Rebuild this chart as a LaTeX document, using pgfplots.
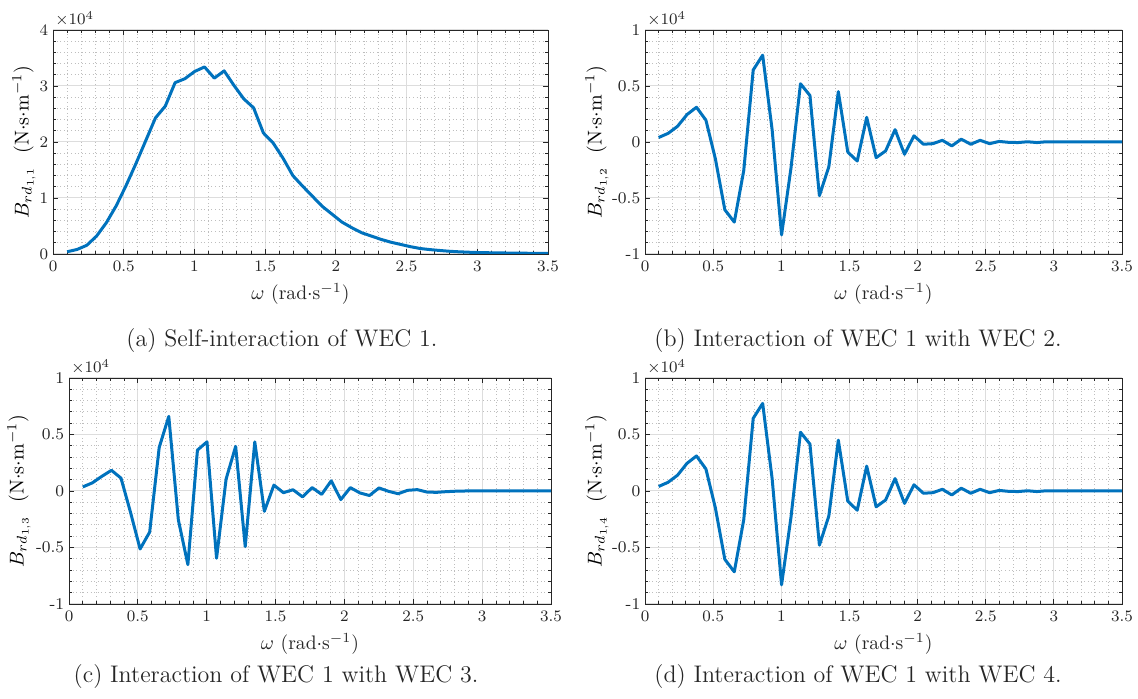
\documentclass[border=0pt]{standalone}
\usepackage{pgfplots}
\pgfplotsset{compat=1.18}
\usepackage{pgfplotstable}
\definecolor{mlblue}{HTML}{0072BD}
\definecolor{axgray}{HTML}{262626}
\definecolor{gridmaj}{HTML}{DDDDDD}
\definecolor{gridmin}{HTML}{BEBEBE}

% omega (rad/s) and B (x 10^4 N s/m)
\pgfplotstableread{
w B
0.1000 0.040
0.1694 0.080
0.2388 0.155
0.3082 0.320
0.3776 0.560
0.4469 0.860
0.5163 1.220
0.5857 1.610
0.6551 2.020
0.7245 2.430
0.7939 2.640
0.8633 3.060
0.9327 3.130
1.0020 3.260
1.0714 3.340
1.1408 3.140
1.2102 3.270
1.2796 3.010
1.3490 2.770
1.4184 2.610
1.4878 2.160
1.5571 1.980
1.6265 1.710
1.6959 1.400
1.7653 1.210
1.8347 1.030
1.9041 0.850
1.9735 0.710
2.0429 0.570
2.1122 0.470
2.1816 0.380
2.2510 0.320
2.3204 0.260
2.3898 0.210
2.4592 0.170
2.5286 0.130
2.5980 0.097
2.6673 0.078
2.7367 0.062
2.8061 0.048
2.8755 0.038
2.9449 0.031
3.0143 0.026
3.0837 0.022
3.1531 0.019
3.2224 0.017
3.2918 0.015
3.3612 0.013
3.4306 0.011
3.5000 0.010
}\tabA

\pgfplotstableread{
w B
0.1000 0.040
0.1694 0.077
0.2388 0.140
0.3082 0.245
0.3776 0.310
0.4469 0.195
0.5163 -0.150
0.5857 -0.605
0.6551 -0.715
0.7245 -0.255
0.7939 0.643
0.8633 0.775
0.9327 0.110
1.0020 -0.830
1.0714 -0.230
1.1408 0.520
1.2102 0.415
1.2796 -0.480
1.3490 -0.220
1.4184 0.450
1.4878 -0.090
1.5571 -0.170
1.6265 0.220
1.6959 -0.140
1.7653 -0.080
1.8347 0.110
1.9041 -0.110
1.9735 0.055
2.0429 -0.020
2.1122 -0.015
2.1816 0.015
2.2510 -0.035
2.3204 0.025
2.3898 -0.020
2.4592 0.015
2.5286 -0.015
2.5980 0.005
2.6673 -0.003
2.7367 -0.005
2.8061 0.002
2.8755 -0.005
2.9449 0.002
3.0143 0.000
3.0837 0.000
3.1531 0.000
3.2224 0.000
3.2918 0.000
3.3612 0.000
3.4306 0.000
3.5000 0.000
}\tabB

\pgfplotstableread{
w B
0.1000 0.036
0.1694 0.072
0.2388 0.130
0.3082 0.183
0.3776 0.114
0.4469 -0.190
0.5163 -0.513
0.5857 -0.364
0.6551 0.386
0.7245 0.660
0.7939 -0.255
0.8633 -0.652
0.9327 0.362
1.0020 0.435
1.0714 -0.595
1.1408 0.106
1.2102 0.395
1.2796 -0.492
1.3490 0.435
1.4184 -0.180
1.4878 0.052
1.5571 -0.015
1.6265 0.011
1.6959 -0.052
1.7653 0.030
1.8347 -0.030
1.9041 0.090
1.9735 -0.076
2.0429 0.030
2.1122 -0.017
2.1816 -0.040
2.2510 0.027
2.3204 -0.003
2.3898 -0.024
2.4592 0.006
2.5286 0.012
2.5980 -0.009
2.6673 -0.012
2.7367 -0.006
2.8061 -0.002
2.8755 0.000
2.9449 0.001
3.0143 0.000
3.0837 0.000
3.1531 0.000
3.2224 0.000
3.2918 0.000
3.3612 0.000
3.4306 0.000
3.5000 0.000
}\tabC

\pgfplotstableread{
w B
0.1000 0.040
0.1694 0.077
0.2388 0.140
0.3082 0.245
0.3776 0.310
0.4469 0.195
0.5163 -0.150
0.5857 -0.605
0.6551 -0.715
0.7245 -0.255
0.7939 0.643
0.8633 0.775
0.9327 0.110
1.0020 -0.830
1.0714 -0.230
1.1408 0.520
1.2102 0.415
1.2796 -0.480
1.3490 -0.220
1.4184 0.450
1.4878 -0.090
1.5571 -0.170
1.6265 0.220
1.6959 -0.140
1.7653 -0.080
1.8347 0.110
1.9041 -0.110
1.9735 0.055
2.0429 -0.020
2.1122 -0.015
2.1816 0.015
2.2510 -0.035
2.3204 0.025
2.3898 -0.020
2.4592 0.015
2.5286 -0.015
2.5980 0.005
2.6673 -0.003
2.7367 -0.005
2.8061 0.002
2.8755 -0.005
2.9449 0.002
3.0143 0.000
3.0837 0.000
3.1531 0.000
3.2224 0.000
3.2918 0.000
3.3612 0.000
3.4306 0.000
3.5000 0.000
}\tabD

\pgfplotsset{
  wec/.style={
    scale only axis,
    xmin=0, xmax=3.5,
    xtick={0,0.5,1,1.5,2,2.5,3,3.5},
    minor x tick num=4,
    minor y tick num=4,
    grid=both,
    major grid style={gridmaj, line width=0.5pt},
    minor grid style={gridmin, line width=0.4pt, dash pattern=on 0.4pt off 1.4pt},
    axis line style={axgray, line width=0.45pt},
    every tick/.style={axgray, line width=0.45pt},
    every minor tick/.style={axgray, line width=0.4pt},
    major tick length=2.6pt, minor tick length=1.5pt,
    tick align=inside,
    scaled y ticks=false,
    tick label style={font=\fontsize{8.2}{9}\selectfont, text=axgray},
    yticklabel style={inner xsep=2.2pt},
    label style={font=\fontsize{9.8}{11}\selectfont, text=axgray},
    xlabel={$\omega$ (rad$\cdot$s$^{-1}$)},
    xlabel style={yshift=1pt},
  },
  wecsym/.style={
    ymin=-1, ymax=1,
    ytick={-1,-0.5,0,0.5,1},
    yticklabels={-1,-0.5,0,0.5,1},
  },
  ylab/.style={every axis y label/.style={at={(rel axis cs:0,0.5)}, xshift=#1, rotate=90, anchor=center}},
  wline/.style={mlblue, line width=1.5pt, line join=round, mark=none},
}

\begin{document}
\begin{tikzpicture}
\path[use as bounding box] (0,0) rectangle (569pt,349.5pt);

% (a)
\begin{axis}[wec, ylab=-14.5pt, name=pa, at={(26.5pt,222.5pt)}, anchor=south west,
  width=247.5pt, height=112pt,
  ymin=0, ymax=4, ytick={0,1,2,3,4},
  ylabel={$B_{rd_{1,1}}$\ \ (N$\cdot$s$\cdot$m$^{-1}$)}]
\addplot[wline] table[x=w, y=B] {\tabA};
\end{axis}
\node[anchor=south west, inner sep=0pt, font=\fontsize{8.2}{9}\selectfont, text=axgray] at ([xshift=1pt, yshift=1.5pt]pa.north west) {$\times10^{4}$};

% (b)
\begin{axis}[wec, wecsym, ylab=-24pt, name=pb, at={(322.5pt,222.5pt)}, anchor=south west,
  width=238.5pt, height=112pt,
  ylabel={$B_{rd_{1,2}}$\ \ (N$\cdot$s$\cdot$m$^{-1}$)}]
\addplot[wline] table[x=w, y=B] {\tabB};
\end{axis}
\node[anchor=south west, inner sep=0pt, font=\fontsize{8.2}{9}\selectfont, text=axgray] at ([xshift=1pt, yshift=1.5pt]pb.north west) {$\times10^{4}$};

% (c)
\begin{axis}[wec, wecsym, ylab=-25pt, name=pc, at={(34.5pt,47.5pt)}, anchor=south west,
  width=241pt, height=113pt,
  ylabel={$B_{rd_{1,3}}$\ \ (N$\cdot$s$\cdot$m$^{-1}$)}]
\addplot[wline] table[x=w, y=B] {\tabC};
\end{axis}
\node[anchor=south west, inner sep=0pt, font=\fontsize{8.2}{9}\selectfont, text=axgray] at ([xshift=1pt, yshift=1.5pt]pc.north west) {$\times10^{4}$};

% (d)
\begin{axis}[wec, wecsym, ylab=-24pt, name=pd, at={(322.5pt,47.5pt)}, anchor=south west,
  width=238.5pt, height=113pt,
  ylabel={$B_{rd_{1,4}}$\ \ (N$\cdot$s$\cdot$m$^{-1}$)}]
\addplot[wline] table[x=w, y=B] {\tabD};
\end{axis}
\node[anchor=south west, inner sep=0pt, font=\fontsize{8.2}{9}\selectfont, text=axgray] at ([xshift=1pt, yshift=1.5pt]pd.north west) {$\times10^{4}$};

% captions
\node[anchor=base, font=\fontsize{12}{14}\selectfont, text=black!85] at (141pt,176pt) {(a) Self-interaction of WEC 1.};
\node[anchor=base, font=\fontsize{12}{14}\selectfont, text=black!85] at (429pt,176pt) {(b) Interaction of WEC 1 with WEC 2.};
\node[anchor=base, font=\fontsize{12}{14}\selectfont, text=black!85] at (138pt,8pt) {(c) Interaction of WEC 1 with WEC 3.};
\node[anchor=base, font=\fontsize{12}{14}\selectfont, text=black!85] at (429pt,8pt) {(d) Interaction of WEC 1 with WEC 4.};
\end{tikzpicture}
\end{document}
